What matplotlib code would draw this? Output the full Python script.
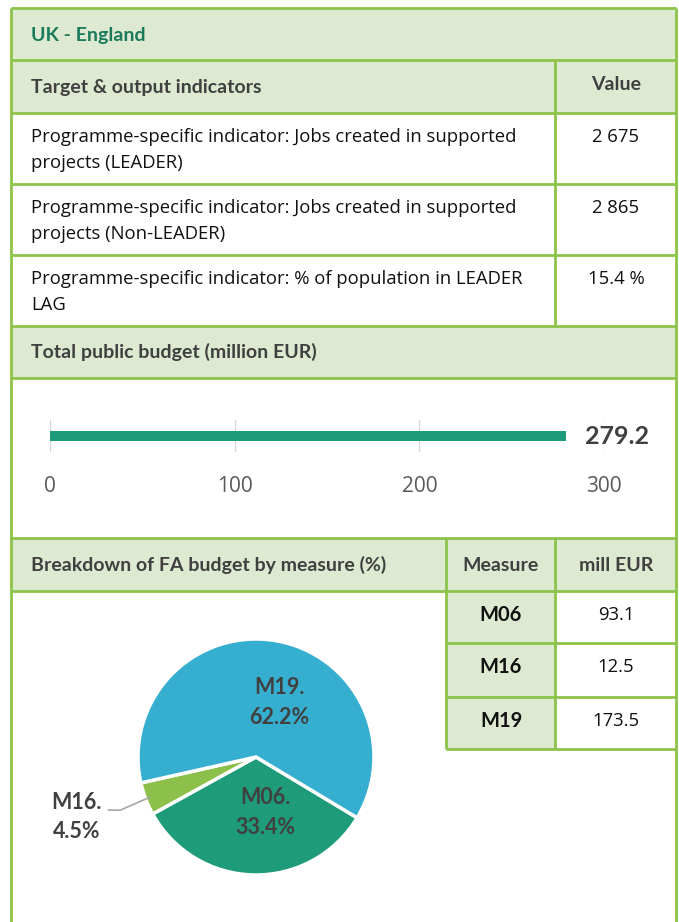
import numpy as np
import matplotlib.pyplot as plt
from matplotlib.patches import Rectangle

# ---------------- DATA ----------------
title = "UK - England"
indicator_header = "Target & output indicators"
value_header = "Value"
indicators = [
    "Programme-specific indicator: Jobs created in supported\nprojects (LEADER)",
    "Programme-specific indicator: Jobs created in supported\nprojects (Non-LEADER)",
    "Programme-specific indicator: % of population in LEADER\nLAG",
]
indicator_values = ["2 675", "2 865", "15.4 %"]

budget_header = "Total public budget (million EUR)"
budget_total = 279.2
budget_ticks = [0, 100, 200, 300]

breakdown_header = "Breakdown of FA budget by measure (%)"
measures = ["M06", "M16", "M19"]
measure_eur = [93.1, 12.5, 173.5]
measure_pct = [33.4, 4.5, 62.2]
# --------------------------------------

W, H = 679, 922
GREEN = "#8dc34a"
FILL = "#dde9d1"
DARK = "#404040"
BODY = ["Open Sans", "DejaVu Sans"]
plt.rcParams["font.family"] = ["Lato", "DejaVu Sans"]

fig = plt.figure(figsize=(W / 100, H / 100), dpi=100)
bg = fig.add_axes([0, 0, 1, 1])
bg.set_xlim(0, W)
bg.set_ylim(H, 0)
bg.axis("off")

L, R = 11, 676
col_val = 555
col_meas = 446

# header fills
for y0, y1 in [(8, 60), (60, 113), (326, 378), (538, 591)]:
    bg.add_patch(Rectangle((L, y0), R - L, y1 - y0, fc=FILL, ec="none"))
bg.add_patch(Rectangle((col_meas, 591), col_val - col_meas, 749 - 591, fc=FILL, ec="none"))

# grid lines
def hline(y, x0=L, x1=R):
    bg.plot([x0, x1], [y, y], color=GREEN, lw=2, solid_capstyle="butt")

def vline(x, y0, y1):
    bg.plot([x, x], [y0, y1], color=GREEN, lw=2, solid_capstyle="butt")

for y in [8, 60, 113, 184, 255, 326, 378, 538, 591]:
    hline(y)
for y in [643, 697, 749]:
    hline(y, col_meas, R)
vline(L, 8, H)
vline(R, 8, H)
vline(col_val, 60, 326)
vline(col_meas, 538, 749)
vline(col_val, 538, 749)

# texts
hdr = dict(color=DARK, fontsize=14, fontweight="bold", va="center")
bg.text(31, 35, title, **{**hdr, "color": "#1b7a5b"})
bg.text(31, 87, indicator_header, **hdr)
bg.text(616, 84, value_header, ha="center", **hdr)
bg.text(31, 352, budget_header, **hdr)
bg.text(31, 565, breakdown_header, **hdr)
bg.text(501, 565, "Measure", ha="center", **hdr)
bg.text(616, 565, "mill EUR", ha="center", **hdr)

row_tops = [113, 184, 255]
for top, txt, val in zip(row_tops, indicators, indicator_values):
    for k, line in enumerate(txt.split("\n")):
        bg.text(31, top + 24 + 26 * k, line, color="#111111", fontsize=13.3,
                family=BODY, va="center")
    bg.text(616, top + 24, val, color="#111111", fontsize=13.3, family=BODY,
            va="center", ha="center")

for i, (m, v) in enumerate(zip(measures, measure_eur)):
    yc = [615, 667, 721][i]
    bg.text(501, yc, m, color="#111111", fontsize=14.5, fontweight="bold",
            va="center", ha="center")
    bg.text(616, yc, f"{v:.1f}", color="#111111", fontsize=13.3, family=BODY,
            va="center", ha="center")

# ----------- BAR CHART -----------
bx0, bx1, by0, by1 = 50, 604, 420, 452
axb = fig.add_axes([bx0 / W, 1 - by1 / H, (bx1 - bx0) / W, (by1 - by0) / H])
axb.barh([0.5], [budget_total], height=0.32, color="#1e9b78", zorder=3)
axb.set_xlim(0, 300)
axb.set_ylim(0, 1)
axb.set_xticks(budget_ticks)
axb.set_yticks([])
axb.grid(axis="x", color="#d9d9d9", lw=1, zorder=0)
for s in axb.spines.values():
    s.set_visible(False)
axb.tick_params(axis="x", length=0, pad=17, labelsize=15, labelcolor="#595959")
for lab in axb.get_xticklabels():
    lab.set_fontfamily(BODY)
axb.annotate(f"{budget_total:.1f}", (budget_total, 0.5), xytext=(14, 0),
             textcoords="offset points", va="center", ha="left",
             fontsize=18, fontweight="bold", color=DARK)
axb.patch.set_alpha(0)

# ----------- PIE CHART -----------
cx, cy, r = 256, 757, 118
axp = fig.add_axes([(cx - r) / W, 1 - (cy + r) / H, 2 * r / W, 2 * r / H])
colors = ["#1e9b78", "#8cc04a", "#36aed0"]
wedges, _ = axp.pie(measure_pct, colors=colors, startangle=-31, counterclock=False,
                    wedgeprops=dict(edgecolor="white", linewidth=2.5))
axp.set_xlim(-1, 1)
axp.set_ylim(-1, 1)

lab_kw = dict(fontsize=15.5, fontweight="bold", color=DARK, ha="center", va="center",
              linespacing=1.5)
axp.text(0.2, 0.46, f"{measures[2]}.\n{measure_pct[2]}%", **lab_kw)
axp.text(0.08, -0.47, f"{measures[0]}.\n{measure_pct[0]}%", **lab_kw)
axp.text(-1.52, -0.51, f"{measures[1]}.\n{measure_pct[1]}%", **lab_kw)

# leader line for the small slice
w = wedges[1]
mid = np.deg2rad((w.theta1 + w.theta2) / 2)
px, py = 0.97 * np.cos(mid), 0.97 * np.sin(mid)
axp.plot([-1.25, -1.15, px], [-0.45, -0.45, py], color="#a6a6a6", lw=1.2, clip_on=False)

fig.savefig("out.png", dpi=100)
